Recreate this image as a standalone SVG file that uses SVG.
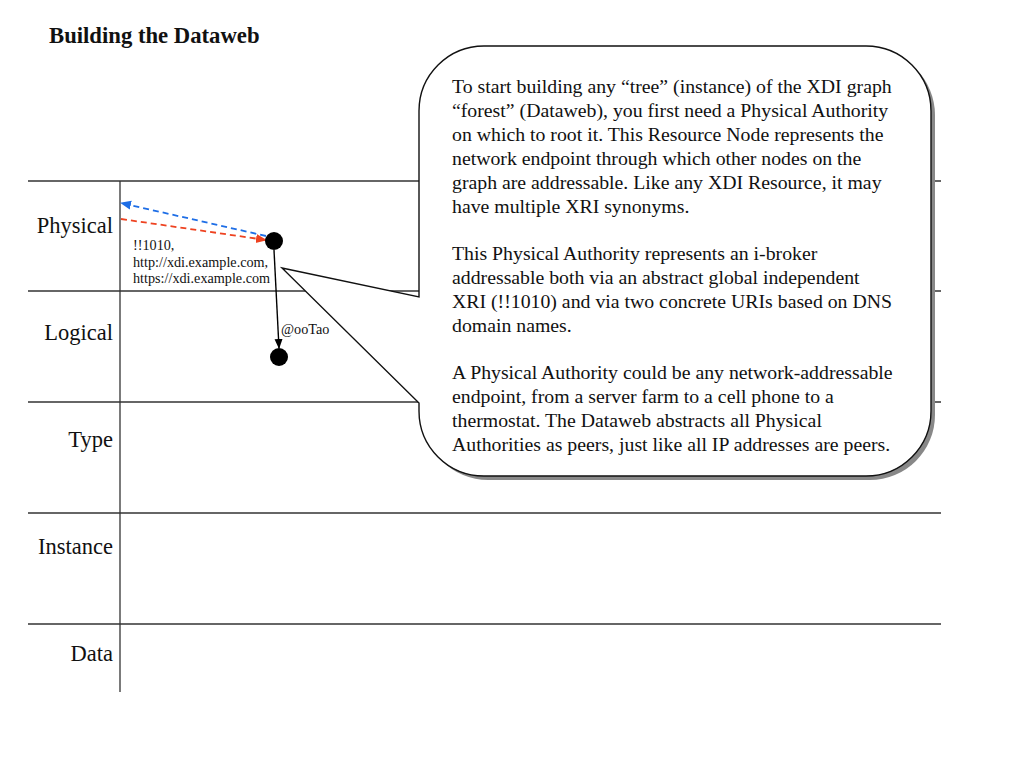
<svg xmlns="http://www.w3.org/2000/svg" width="1024" height="768" viewBox="0 0 1024 768">
<style>
.lane{stroke:#333;stroke-width:1.3;fill:none}
.lbl{font-family:"Liberation Serif",serif;font-size:22.5px;fill:#111;text-anchor:end}
.txt{font-family:"Liberation Serif",serif;font-size:19.8px;fill:#111}
.sm{font-family:"Liberation Serif",serif;font-size:14.2px;fill:#111}
.node{fill:#000}
</style>
<defs>
<marker id="ab" markerWidth="10" markerHeight="10" refX="9" refY="5" orient="auto" markerUnits="userSpaceOnUse"><path d="M0,1 L10,5 L0,9 Z" fill="#000"/></marker>
<marker id="abl" markerWidth="12" markerHeight="10" refX="10" refY="5" orient="auto" markerUnits="userSpaceOnUse"><path d="M0,0.5 L11,5 L0,9.5 Z" fill="#1e6ee6"/></marker>
<marker id="ard" markerWidth="12" markerHeight="10" refX="10" refY="5" orient="auto" markerUnits="userSpaceOnUse"><path d="M0,0.5 L11,5 L0,9.5 Z" fill="#ee4220"/></marker>
</defs>
<rect width="1024" height="768" fill="#fff"/>
<text x="49" y="43" style="font-family:'Liberation Serif',serif;font-size:22.7px;font-weight:bold;fill:#111">Building the Dataweb</text>
<g id="lanes">
<line class="lane" x1="28" y1="181" x2="941" y2="181"/>
<line class="lane" x1="28" y1="291" x2="941" y2="291"/>
<line class="lane" x1="28" y1="402" x2="941" y2="402"/>
<line class="lane" x1="28" y1="513" x2="941" y2="513"/>
<line class="lane" x1="28" y1="624" x2="941" y2="624"/>
<line class="lane" x1="120" y1="181" x2="120" y2="692"/>
<text class="lbl" x="113" y="233">Physical</text>
<text class="lbl" x="113" y="340">Logical</text>
<text class="lbl" x="113" y="447">Type</text>
<text class="lbl" x="113" y="554">Instance</text>
<text class="lbl" x="113" y="661">Data</text>
</g>
<g id="connectors">
<line x1="266" y1="236" x2="121" y2="203" stroke="#1e6ee6" stroke-width="1.8" stroke-dasharray="6,4" marker-end="url(#abl)"/>
<line x1="121" y1="219" x2="266" y2="240" stroke="#ee4220" stroke-width="1.8" stroke-dasharray="6,4" marker-end="url(#ard)"/>
<line x1="274" y1="250" x2="279" y2="348" stroke="#000" stroke-width="1.4" marker-end="url(#ab)"/>
<text class="sm" x="281" y="334">@ooTao</text>
</g>
<g id="node-physical">
<circle class="node" cx="274" cy="241" r="9"/>
<text class="sm" x="133" y="250">!!1010,</text>
<text class="sm" x="133" y="267">http://xdi.example.com,</text>
<text class="sm" x="133" y="283">https://xdi.example.com</text>
</g>
<g id="node-logical">
<circle class="node" cx="279" cy="357" r="9"/>
</g>
<g id="callout">
<rect x="423" y="50" width="512" height="430" rx="65" ry="65" fill="#888"/>
<path d="M419 297 L419 111 A65 65 0 0 1 484 46 L866 46 A65 65 0 0 1 931 111 L931 411 A65 65 0 0 1 866 476 L484 476 A65 65 0 0 1 419 411 L419 403 L282 268 Z" fill="#fff" stroke="#111" stroke-width="1.4" stroke-linejoin="miter"/>
<text class="txt" x="452" y="93">To start building any “tree” (instance) of the XDI graph</text>
<text class="txt" x="452" y="117">“forest” (Dataweb), you first need a Physical Authority</text>
<text class="txt" x="452" y="141">on which to root it. This Resource Node represents the</text>
<text class="txt" x="452" y="165">network endpoint through which other nodes on the</text>
<text class="txt" x="452" y="189">graph are addressable. Like any XDI Resource, it may</text>
<text class="txt" x="452" y="213">have multiple XRI synonyms.</text>
<text class="txt" x="452" y="260">This Physical Authority represents an i-broker</text>
<text class="txt" x="452" y="284">addressable both via an abstract global independent</text>
<text class="txt" x="452" y="308">XRI (!!1010) and via two concrete URIs based on DNS</text>
<text class="txt" x="452" y="332">domain names.</text>
<text class="txt" x="452" y="379">A Physical Authority could be any network-addressable</text>
<text class="txt" x="452" y="403">endpoint, from a server farm to a cell phone to a</text>
<text class="txt" x="452" y="427">thermostat. The Dataweb abstracts all Physical</text>
<text class="txt" x="452" y="451">Authorities as peers, just like all IP addresses are peers.</text>
</g>
</svg>
